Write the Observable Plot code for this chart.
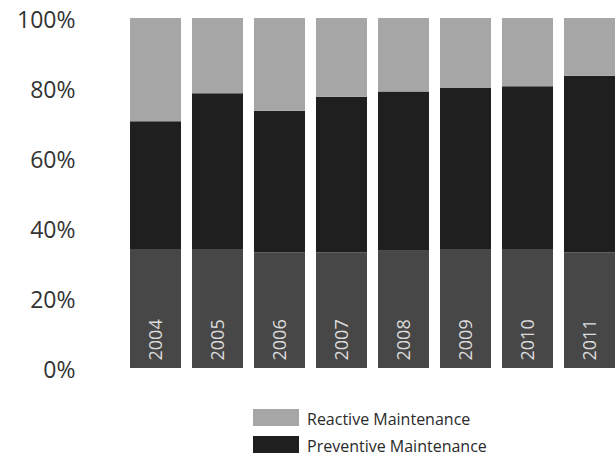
<!DOCTYPE html>
<html>
<head>
<meta charset="utf-8">
<script src="https://cdn.jsdelivr.net/npm/d3@7"></script>
<script src="https://cdn.jsdelivr.net/npm/@observablehq/plot@0.6"></script>
<style>
  html, body { margin: 0; padding: 0; background: #fff; overflow: hidden; width: 616px; height: 459px; }
  #chart svg { display: block; }
  .legend { margin-top: 17px; margin-left: 253px; font-family: "Open Sans", sans-serif; font-size: 16px; color: #2a2a2a; }
  .row { display: flex; align-items: flex-start; height: 17px; margin-bottom: 10px; }
  .sw { width: 46px; height: 17px; flex: none; }
  .lbl { margin-left: 8px; line-height: 17px; margin-top: 2px; white-space: nowrap; }
</style>
</head>
<body>
<div id="chart"></div>
<script>
const years = ["2004", "2005", "2006", "2007", "2008", "2009", "2010", "2011"];
// shares in percent (bottom to top)
const lowerBand  = [34, 34, 33, 33, 33.5, 34, 34, 33];
const preventive = [36.5, 44.5, 40.5, 44.5, 45.5, 46, 46.5, 50.5];
const reactive   = [29.5, 21.5, 26.5, 22.5, 21, 20, 19.5, 16.5];
const yTicks = [0, 20, 40, 60, 80, 100];

const seriesNames = ["Lower band", "Preventive Maintenance", "Reactive Maintenance"];
const seriesColors = ["#474747", "#1f1f1f", "#a6a6a6"];
const seriesValues = [lowerBand, preventive, reactive];

const rows = [];
seriesNames.forEach((s, si) => {
  years.forEach((y, i) => rows.push({year: y, series: s, value: seriesValues[si][i]}));
});

const chart = Plot.plot({
  width: 616,
  height: 392,
  marginTop: 18,
  marginBottom: 24,
  marginLeft: 75,
  marginRight: 0,
  style: {fontFamily: "Open Sans, sans-serif", color: "#333", background: "#fff"},
  x: {type: "band", domain: years, range: [115, 630], padding: 0.175, axis: null},
  y: {domain: [0, 100], axis: null},
  color: {domain: seriesNames, range: seriesColors},
  marks: [
    Plot.barY(rows, Plot.stackY({order: seriesNames}, {x: "year", y: "value", fill: "series", z: "series"})),
    Plot.axisY({ticks: yTicks, tickSize: 0, tickPadding: 0, tickFormat: d => d + "%", fontSize: 23, dy: 2, anchor: "left", label: null}),
    Plot.text(years, {x: d => d, y: d => 0, text: d => d, rotate: -90, textAnchor: "start", dy: -8, fill: "#dcdcdc", fontSize: 18})
  ]
});
document.getElementById("chart").append(chart);

const legend = document.createElement("div");
legend.className = "legend";
[["Reactive Maintenance", seriesColors[2]], ["Preventive Maintenance", seriesColors[1]]].forEach(([name, c]) => {
  const r = document.createElement("div");
  r.className = "row";
  const sw = document.createElement("div");
  sw.className = "sw";
  sw.style.background = c;
  const l = document.createElement("div");
  l.className = "lbl";
  l.textContent = name;
  r.append(sw, l);
  legend.append(r);
});
document.body.append(legend);
</script>
</body>
</html>
